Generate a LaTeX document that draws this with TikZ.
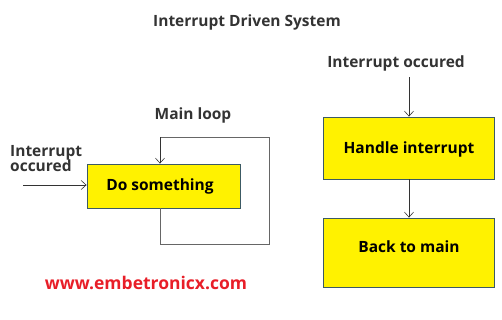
\documentclass[tikz,border=0pt]{standalone}
\usepackage{fontspec}
\setmainfont{Open Sans}
\usetikzlibrary{arrows.meta}
\definecolor{boxyellow}{RGB}{255,242,0}
\definecolor{boxedge}{RGB}{60,90,100}
\definecolor{urlred}{RGB}{232,30,40}
\tikzset{
  flowbox/.style={draw=boxedge, line width=0.8pt, fill=boxyellow},
  boxtext/.style={font=\fontsize{15.5}{18}\selectfont\bfseries, text=black},
  lbl/.style={font=\fontsize{15.5}{17}\selectfont\bfseries, text=black!80},
  conn/.style={draw=black!80, line width=0.6pt, -{Straight Barb[length=5pt,width=9pt]}},
  loopline/.style={draw=black!60, line width=0.8pt}
}
\begin{document}
\begin{tikzpicture}[x=1pt,y=-1pt]
\useasboundingbox (0,0) rectangle (502,319);
\node[lbl] (title) at (247,22) {Interrupt Driven System};
% left
\node[flowbox, minimum width=153pt, minimum height=44pt] (do) at (163.5,186) {};
\node[boxtext] (dotext) at (160,186) {Do something};
\node[lbl] (mainloop) at (193,115) {Main loop};
\node[lbl, align=left, anchor=north west, inner sep=0pt] (intl) at (10,145) {Interrupt\\[-2pt]occured};
\coordinate (inl) at (23,185);
\draw[conn] (inl) -- (do.west |- inl);
\coordinate (lt) at (160,137);
\coordinate (rt) at (269,137);
\coordinate (rb) at (269,244);
\coordinate (lb) at (160,244);
\draw[loopline] (do.south -| lb) -- (lb) -- (rb) -- (rt) -- (lt);
\draw[conn] (lt) -- (do.north -| lt);
% right
\node[lbl] (intr) at (396,63) {Interrupt occured};
\node[flowbox, minimum width=171pt, minimum height=62pt] (handle) at (408.5,148) {};
\node[boxtext] (handletext) at (409,149) {Handle interrupt};
\node[flowbox, minimum width=171pt, minimum height=69pt] (back) at (408.5,252.5) {};
\node[boxtext] (backtext) at (409,247) {Back to main};
\coordinate (rin) at (409,77);
\draw[conn] (rin) -- (handle.north -| rin);
\draw[conn] (handle.south -| rin) -- (back.north -| rin);
% url
\node[font=\fontsize{17.5}{20}\selectfont\bfseries, text=urlred] (url) at (146,283) {www.embetronicx.com};
\end{tikzpicture}
\end{document}
